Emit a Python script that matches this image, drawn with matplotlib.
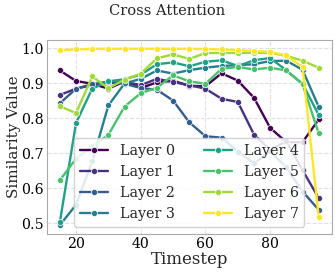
import matplotlib
matplotlib.use('Agg')
import numpy as np
import matplotlib.pyplot as plt
import seaborn as sns

# timesteps and per-layer similarity values
timesteps = [15, 20, 25, 30, 35, 40, 45, 50, 55, 60, 65, 70, 75, 80, 85, 90, 95]

layer_0 = [0.937, 0.907, 0.899, 0.885, 0.906, 0.887, 0.903, 0.908, 0.893, 0.892, 0.929, 0.908, 0.859, 0.773, 0.732, 0.732, 0.797]
layer_1 = [0.867, 0.885, 0.895, 0.900, 0.905, 0.895, 0.913, 0.904, 0.895, 0.885, 0.856, 0.847, 0.754, 0.710, 0.735, 0.652, 0.572]
layer_2 = [0.843, 0.885, 0.898, 0.905, 0.899, 0.887, 0.882, 0.851, 0.789, 0.749, 0.745, 0.705, 0.672, 0.706, 0.660, 0.591, 0.539]
layer_3 = [0.495, 0.553, 0.677, 0.837, 0.900, 0.913, 0.937, 0.928, 0.938, 0.945, 0.950, 0.952, 0.955, 0.964, 0.965, 0.939, 0.833]
layer_4 = [0.503, 0.787, 0.885, 0.906, 0.912, 0.925, 0.955, 0.960, 0.949, 0.962, 0.966, 0.950, 0.966, 0.973, 0.937, 0.899, 0.810]
layer_5 = [0.623, 0.685, 0.720, 0.753, 0.834, 0.872, 0.888, 0.923, 0.906, 0.899, 0.942, 0.947, 0.940, 0.945, 0.937, 0.898, 0.757]
layer_6 = [0.835, 0.815, 0.920, 0.886, 0.911, 0.928, 0.972, 0.983, 0.970, 0.987, 0.987, 0.987, 0.988, 0.987, 0.979, 0.965, 0.945]
layer_7 = [0.995, 0.997, 0.999, 0.999, 0.999, 0.999, 0.999, 0.999, 0.999, 0.998, 0.997, 0.995, 0.993, 0.990, 0.980, 0.947, 0.518]

layers = [layer_0, layer_1, layer_2, layer_3, layer_4, layer_5, layer_6, layer_7]
labels = ['Layer 0', 'Layer 1', 'Layer 2', 'Layer 3', 'Layer 4', 'Layer 5', 'Layer 6', 'Layer 7']

sns.set_style('whitegrid', {'grid.linestyle': '--', 'grid.color': '0.88'})
plt.rcParams['font.family'] = ['DejaVu Serif']

# full viridis range, dark purple to bright yellow
colors = plt.cm.viridis(np.linspace(0, 1, len(layers)))

fig, ax = plt.subplots(figsize=(3.35, 2.72), dpi=100)
fig.subplots_adjust(left=0.14, right=0.99, top=0.853, bottom=0.14)

for vals, lab, c in zip(layers, labels, colors):
    ax.plot(timesteps, vals, marker='o', markersize=4.4, markeredgecolor='white',
            markeredgewidth=0.5, linewidth=1.7, color=c, label=lab)

ax.set_xticks([20, 40, 60, 80])
ax.set_yticks([0.5, 0.6, 0.7, 0.8, 0.9, 1.0])
ax.tick_params(labelsize=10.2, length=0, pad=2.5, colors='black')
ax.set_xlabel('Timestep', fontsize=12, labelpad=0)
ax.set_ylabel('Similarity Value', fontsize=11)
ax.yaxis.set_label_coords(-0.092, 0.5)
for s in ax.spines.values():
    s.set_color('#aaaaaa')

fig.suptitle('Cross Attention', fontsize=10.5, y=0.985)

ax.legend(ncol=2, fontsize=10.3, loc='lower center', framealpha=0.85)

plt.savefig('out.png', dpi=100)
